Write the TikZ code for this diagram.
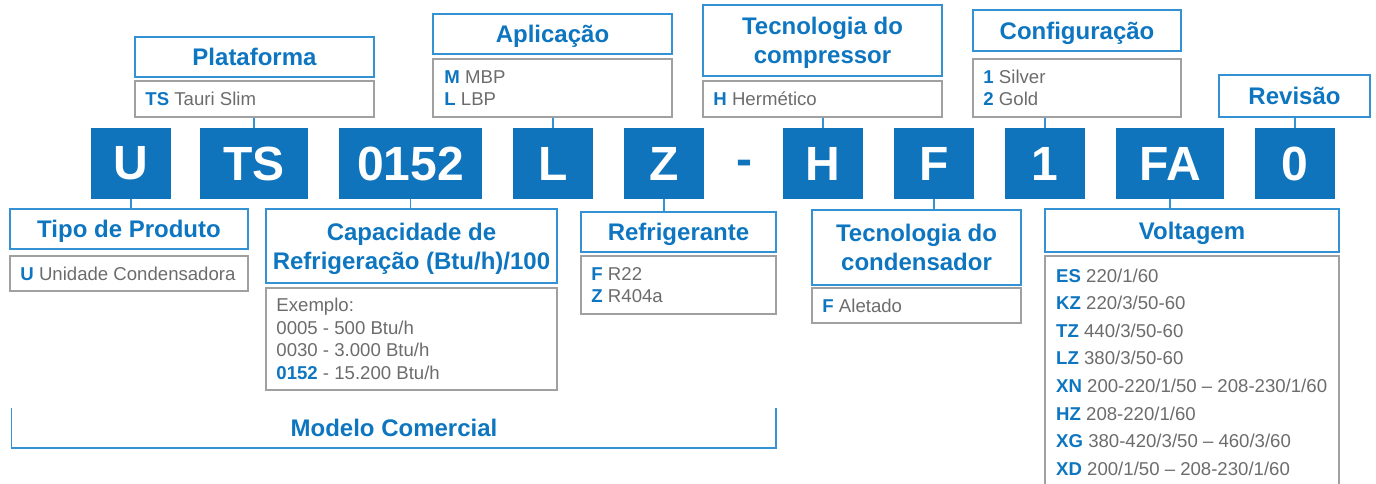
\documentclass[tikz,border=0pt]{standalone}
\usepackage{fontspec}
\setmainfont{Liberation Sans}
\usetikzlibrary{calc}
\definecolor{cblue}{RGB}{16,116,188}
\definecolor{tblue}{RGB}{14,118,192}
\definecolor{bline}{RGB}{52,146,212}
\definecolor{gline}{RGB}{160,160,160}
\definecolor{gtext}{RGB}{108,108,108}
\newcommand{\kb}[1]{\textcolor{tblue}{\bfseries #1}}
\tikzset{
 codebox/.style={fill=cblue, text=white, font=\fontsize{48}{48}\bfseries\selectfont, minimum height=71pt, inner sep=0pt},
 titlebox/.style={draw=bline, line width=1.3pt, fill=white, text=tblue, font=\fontsize{24}{29}\bfseries\selectfont, align=center, inner sep=0pt, text depth=0pt},
 detbox/.style={draw=gline, line width=1.5pt, inner sep=0pt},
 dettext/.style={text=gtext, font=\fontsize{18.6}{22.5}\selectfont, align=left, inner sep=0pt, anchor=west},
 link/.style={draw=bline, line width=1.3pt},
}
\begin{document}
\begin{tikzpicture}[x=1pt,y=-1pt]
\useasboundingbox (0,0) rectangle (1376,484);
\clip (0,0) rectangle (1376,484);
% code boxes
\node[codebox, minimum width=80pt]  (cU)  at (131,163.5) {U};
\node[codebox, minimum width=108pt] (cTS) at (254,163.5) {TS};
\node[codebox, minimum width=143pt] (cN)  at (410.5,163.5) {0152};
\node[codebox, minimum width=80pt]  (cL)  at (553,163.5) {L};
\node[codebox, minimum width=80pt]  (cZ)  at (664,163.5) {Z};
\node[text=cblue, font=\fontsize{48}{48}\bfseries\selectfont, inner sep=0pt] (dash) at (744,168) {-};
\node[codebox, minimum width=80pt]  (cH)  at (823,163.5) {H};
\node[codebox, minimum width=80pt]  (cF)  at (934,163.5) {F};
\node[codebox, minimum width=80pt]  (c1)  at (1045,163.5) {1};
\node[codebox, minimum width=108pt] (cFA) at (1170,163.5) {FA};
\node[codebox, minimum width=80pt]  (c0)  at (1295,163.5) {0};

% top: Plataforma
\node[titlebox, minimum width=239pt, minimum height=40pt] (tPl) at (254.5,57) {Plataforma};
\node[detbox, minimum width=239pt, minimum height=36pt] (dPl) at (254.5,99) {};
\node[dettext] (xPl) at ($(dPl.west)+(11,0)$) {\kb{TS} Tauri Slim};
% Aplicacao
\node[titlebox, minimum width=239pt, minimum height=40pt] (tAp) at (552.5,34) {Aplicação};
\node[detbox, minimum width=239pt, minimum height=58pt] (dAp) at (552.5,88) {};
\node[dettext] (xAp) at ($(dAp.west)+(12,0)$) {\kb{M} MBP\\\kb{L} LBP};
% Tecnologia do compressor
\node[titlebox, minimum width=239pt, minimum height=71pt] (tTc) at (822.5,40.5) {Tecnologia do\\compressor};
\node[detbox, minimum width=239pt, minimum height=36pt] (dTc) at (822.5,99) {};
\node[dettext] (xTc) at ($(dTc.west)+(11,0)$) {\kb{H} Hermético};
% Configuracao
\node[titlebox, minimum width=208pt, minimum height=41pt] (tCf) at (1077,30.5) {Configuração};
\node[detbox, minimum width=208pt, minimum height=58pt] (dCf) at (1077,88) {};
\node[dettext] (xCf) at ($(dCf.west)+(11,0)$) {\kb{1} Silver\\\kb{2} Gold};
% Revisao
\node[titlebox, minimum width=151pt, minimum height=42pt] (tRv) at (1294.5,96) {Revisão};

% bottom: Tipo de Produto
\node[titlebox, minimum width=238pt, minimum height=40pt] (tTp) at (129,229) {Tipo de Produto};
\node[detbox, minimum width=238pt, minimum height=35pt] (dTp) at (129,273.5) {};
\node[dettext] (xTp) at ($(dTp.west)+(11,0)$) {\kb{U} Unidade Condensadora};
% Capacidade
\node[titlebox, minimum width=291pt, minimum height=74pt] (tCp) at (411.5,246) {Capacidade de\\Refrigeração (Btu/h)/100};
\node[detbox, minimum width=291pt, minimum height=102pt] (dCp) at (411.5,339) {};
\node[dettext] (xCp) at ($(dCp.west)+(11,0)$) {Exemplo:\\0005 - 500 Btu/h\\0030 - 3.000 Btu/h\\\kb{0152} - 15.200 Btu/h};
% Refrigerante
\node[titlebox, minimum width=195pt, minimum height=40pt] (tRf) at (678.5,232) {Refrigerante};
\node[detbox, minimum width=195pt, minimum height=58pt] (dRf) at (678.5,285) {};
\node[dettext] (xRf) at ($(dRf.west)+(11,0)$) {\kb{F} R22\\\kb{Z} R404a};
% Tecnologia do condensador
\node[titlebox, minimum width=209pt, minimum height=75pt] (tCd) at (916.5,247.5) {Tecnologia do\\condensador};
\node[detbox, minimum width=209pt, minimum height=35pt] (dCd) at (916.5,305.5) {};
\node[dettext] (xCd) at ($(dCd.west)+(11,0)$) {\kb{F} Aletado};
% Voltagem
\node[titlebox, minimum width=294pt, minimum height=43pt] (tVg) at (1192,230.5) {Voltagem};
\node[detbox, minimum width=294pt, minimum height=244pt] (dVg) at (1192,378) {};
\node[dettext, font=\fontsize{18.6}{27.6}\selectfont, anchor=north west] (xVg) at (1056,268.5)
 {\kb{ES} 220/1/60\\\kb{KZ} 220/3/50-60\\\kb{TZ} 440/3/50-60\\\kb{LZ} 380/3/50-60\\\kb{XN} 200-220/1/50 – 208-230/1/60\\\kb{HZ} 208-220/1/60\\\kb{XG} 380-420/3/50 – 460/3/60\\\kb{XD} 200/1/50 – 208-230/1/60};

% connectors (vertical, at each code box's centre)
\draw[link] (cTS.north) -- (cTS.north |- dPl.south);
\draw[link] (cL.north) -- (cL.north |- dAp.south);
\draw[link] (cH.north) -- (cH.north |- dTc.south);
\draw[link] (c1.north) -- (c1.north |- dCf.south);
\draw[link] (c0.north) -- (c0.north |- tRv.south);
\draw[link] (cU.south) -- (cU.south |- tTp.north);
\draw[link] (cN.south) -- (cN.south |- tCp.north);
\draw[link] (cZ.south) -- (cZ.south |- tRf.north);
\draw[link] (cF.south) -- (cF.south |- tCd.north);
\draw[link] (cFA.south) -- (cFA.south |- tVg.north);

% Modelo Comercial bracket
\coordinate (mA) at (11.5,408);
\coordinate (mB) at (11.5,448);
\coordinate (mC) at (776,448);
\coordinate (mD) at (776,408);
\draw[link] (mA) -- (mB) -- (mC) -- (mD);
\node[text=tblue, font=\fontsize{24}{28}\bfseries\selectfont, inner sep=0pt] (mc) at (394,428) {Modelo Comercial};
\end{tikzpicture}
\end{document}
